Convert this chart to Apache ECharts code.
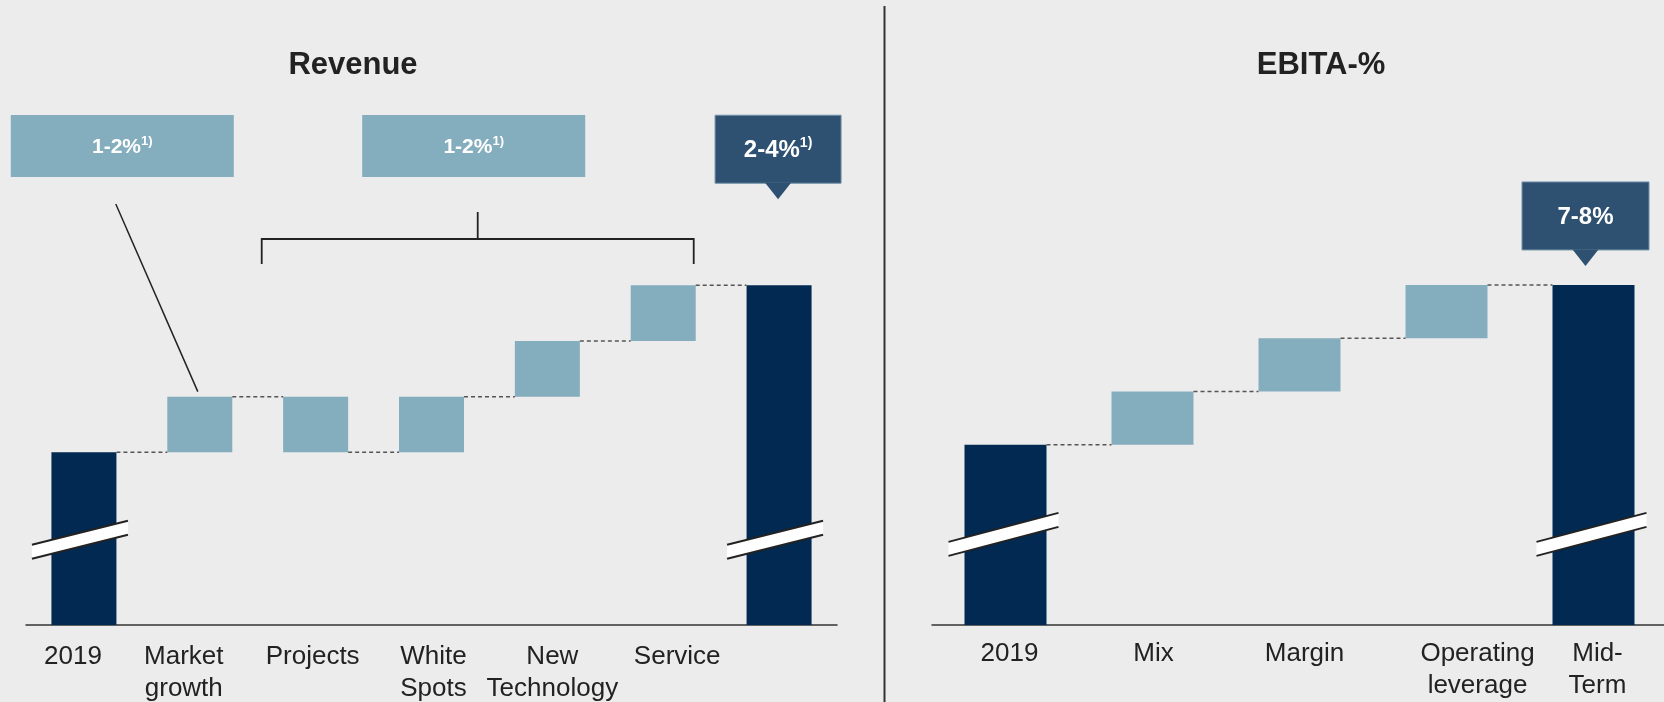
<!DOCTYPE html>
<html><head><meta charset="utf-8">
<script src="https://cdn.jsdelivr.net/npm/echarts@6/dist/echarts.min.js"></script>
<style>html,body{margin:0;padding:0;background:#ececec;}#c{width:1664px;height:702px;}</style>
</head><body><div id="c"></div>
<script>
// ---------- data ----------
const revCategories = ['2019', 'Market\ngrowth', 'Projects', 'White\nSpots', 'New\nTechnology', 'Service', ''];
const revStart = 3.1;
const revSteps = [1, -1, 1, 1, 1];
const revEnd = 6.1;
const revBreakAt = 1.55;
const revCalloutText = ['1-2%', '1-2%'];
const revTotalText = '2-4%';

const ebitaCategories = ['2019', 'Mix', 'Margin', 'Operating\nleverage', 'Mid-\nTerm'];
const ebitaStart = 3.38;
const ebitaSteps = [1, 1, 1];
const ebitaEnd = 6.38;
const ebitaBreakAt = 1.71;
const ebitaTotalText = '7-8%';
const footnoteMark = '1)';

// ---------- style ----------
const FONT = 'Liberation Sans, Arial, Helvetica, sans-serif';
const NAVY = '#012952';
const LIGHT = '#84adbd';
const CALLOUT = '#2e5071';
const TXT = '#222222';
const revLabelShift = [-11, -16, -3, 2, 5, 14, 0];
const ebitaLabelShift = [4, 1, 5, 31, 4];
const REV_BW = 65, EB_BW = 82;

function waterfall(start, steps, end) {
  const base = [0], height = [start], total = [true], levels = [start];
  let run = start;
  steps.forEach(s => {
    if (s >= 0) { base.push(run); height.push(s); run += s; }
    else { run += s; base.push(run); height.push(-s); }
    total.push(false); levels.push(run);
  });
  base.push(0); height.push(end); total.push(true);
  return { base, height, total, levels };
}
const rev = waterfall(revStart, revSteps, revEnd);
const eb = waterfall(ebitaStart, ebitaSteps, ebitaEnd);

function richFor(shifts) {
  const r = {};
  shifts.forEach((d, i) => {
    r['o' + i] = {
      fontSize: 26, lineHeight: 32, color: TXT, fontFamily: FONT,
      padding: d >= 0 ? [0, 0, 0, 2 * d] : [0, -2 * d, 0, 0]
    };
  });
  return r;
}
function fmt(value, index) {
  if (!value) return '';
  return value.split('\n').map(l => '{o' + index + '|' + l + '}').join('\n');
}

function xAxis(grid, cats, shifts, margin) {
  return {
    type: 'category', gridIndex: grid, data: cats,
    axisLine: { show: true, lineStyle: { color: '#333', width: 1.5 } },
    axisTick: { show: false }, splitLine: { show: false },
    axisLabel: { interval: 0, margin: margin, formatter: fmt, rich: richFor(shifts), fontSize: 26, lineHeight: 32, color: TXT, fontFamily: FONT }
  };
}
function yAxis(grid) {
  return { type: 'value', gridIndex: grid, min: 0, max: 10, show: false };
}

function barSeries(idx, w, d, stack) {
  return [
    { type: 'bar', xAxisIndex: idx, yAxisIndex: idx, stack: stack, barWidth: w, silent: true,
      itemStyle: { color: 'rgba(0,0,0,0)' }, data: d.base },
    { type: 'bar', xAxisIndex: idx, yAxisIndex: idx, stack: stack, barWidth: w,
      data: d.height.map((h, i) => ({ value: h, itemStyle: { color: d.total[i] ? NAVY : LIGHT } })) }
  ];
}
function connectorSeries(idx, w, d) {
  return {
    type: 'custom', xAxisIndex: idx, yAxisIndex: idx, z: 5, silent: true,
    data: d.levels.map((l, i) => [i, l]),
    renderItem: (params, api) => {
      const i = api.value(0), l = api.value(1);
      const a = api.coord([i, l]), b = api.coord([i + 1, l]);
      return { type: 'line', shape: { x1: a[0] + w / 2, y1: a[1], x2: b[0] - w / 2, y2: b[1] },
        style: { stroke: '#555', lineWidth: 1.5, lineDash: [4, 3] } };
    }
  };
}
function breakSeries(idx, at, cats, lo, hi, slope, thick) {
  return {
    type: 'custom', xAxisIndex: idx, yAxisIndex: idx, z: 10, silent: true,
    data: [[0, at], [cats.length - 1, at]],
    renderItem: (params, api) => {
      const c = api.coord([api.value(0), api.value(1)]);
      const x1 = c[0] - lo, x2 = c[0] + hi;
      const y1 = c[1] + lo * slope, y2 = c[1] - hi * slope;
      const t = thick / 2;
      return { type: 'group', children: [
        { type: 'polygon', shape: { points: [[x1, y1 - t], [x2, y2 - t], [x2, y2 + t], [x1, y1 + t]] }, style: { fill: '#ffffff' } },
        { type: 'line', shape: { x1: x1, y1: y1 - t, x2: x2, y2: y2 - t }, style: { stroke: '#222', lineWidth: 2 } },
        { type: 'line', shape: { x1: x1, y1: y1 + t, x2: x2, y2: y2 + t }, style: { stroke: '#222', lineWidth: 2 } }
      ] };
    }
  };
}

const chart = echarts.init(document.getElementById('c'), null, { renderer: 'canvas' });
chart.setOption({
  backgroundColor: '#ececec',
  animation: false,
  textStyle: { fontFamily: FONT },
  grid: [
    { left: 26, width: 811, top: 68, height: 557, containLabel: false, outerBoundsMode: 'none' },
    { left: 932, width: 735, top: 92, height: 533, containLabel: false, outerBoundsMode: 'none' }
  ],
  xAxis: [xAxis(0, revCategories, revLabelShift, 16), xAxis(1, ebitaCategories, ebitaLabelShift, 13)],
  yAxis: [yAxis(0), yAxis(1)],
  series: [
    ...barSeries(0, REV_BW, rev, 'rev'),
    ...barSeries(1, EB_BW, eb, 'eb'),
    connectorSeries(0, REV_BW, rev),
    connectorSeries(1, EB_BW, eb),
    breakSeries(0, revBreakAt, revCategories, 52, 44, 0.25, 14),
    breakSeries(1, ebitaBreakAt, ebitaCategories, 57, 53, 0.264, 14)
  ]
});

// ---------- annotations ----------
function labelText(x, y, main, sup, size, supSize) {
  return {
    type: 'text', z: 20, silent: true,
    style: {
      x: x, y: y, align: 'center', verticalAlign: 'middle',
      text: '{b|' + main + '}' + (sup ? '{s|' + sup + '}' : ''),
      rich: {
        b: { fontSize: size, fontWeight: 'bold', fill: '#ffffff', fontFamily: FONT, lineHeight: size + 4 },
        s: { fontSize: supSize, fontWeight: 'bold', fill: '#ffffff', fontFamily: FONT, lineHeight: supSize + 2, verticalAlign: 'top' }
      }
    }
  };
}
function callout(cx, tipY, w, h, main, sup) {
  const by = tipY - 16 - h;
  return [
    { type: 'rect', z: 18, silent: true, shape: { x: cx - w / 2, y: by, width: w, height: h },
      style: { fill: CALLOUT, stroke: '#7391a8', lineWidth: 1 } },
    { type: 'polygon', z: 19, silent: true, shape: { points: [[cx - 13, by + h - 0.5], [cx + 13, by + h - 0.5], [cx, tipY]] },
      style: { fill: CALLOUT } },
    labelText(cx, by + h / 2 + 1, main, sup, 24, 14)
  ];
}
const px0 = v => chart.convertToPixel({ gridIndex: 0 }, v);
const px1 = v => chart.convertToPixel({ gridIndex: 1 }, v);

const mgTop = px0([1, rev.levels[1]]);
const prPt = px0([2, rev.levels[1]]);
const svPt = px0([5, rev.levels[5]]);
const revTot = px0([revCategories.length - 1, revEnd]);
const ebTot = px1([ebitaCategories.length - 1, ebitaEnd]);

const brL = (mgTop[0] + prPt[0]) / 2 + 4;
const brR = svPt[0] + REV_BW / 2 - 2;
const brM = (brL + brR) / 2;
const box1cx = mgTop[0] - 77.5;
const box2cx = brM - 4;

const G = [
  { type: 'line', silent: true, shape: { x1: 884.5, y1: 6, x2: 884.5, y2: 702 }, style: { stroke: '#333', lineWidth: 2 } },
  { type: 'text', silent: true, style: { x: 353, y: 65, text: 'Revenue', align: 'center', verticalAlign: 'middle', fontSize: 31, fontWeight: 'bold', fontFamily: FONT, fill: TXT } },
  { type: 'text', silent: true, style: { x: 1321, y: 65, text: 'EBITA-%', align: 'center', verticalAlign: 'middle', fontSize: 31, fontWeight: 'bold', fontFamily: FONT, fill: TXT } },
  { type: 'rect', silent: true, shape: { x: box1cx - 111.5, y: 115, width: 223, height: 62 }, style: { fill: LIGHT } },
  labelText(box1cx, 147, revCalloutText[0], footnoteMark, 21, 13),
  { type: 'rect', silent: true, shape: { x: box2cx - 111.5, y: 115, width: 223, height: 62 }, style: { fill: LIGHT } },
  labelText(box2cx, 147, revCalloutText[1], footnoteMark, 21, 13),
  { type: 'line', silent: true, shape: { x1: box1cx - 6.5, y1: 204, x2: mgTop[0] - 2, y2: mgTop[1] - 5 }, style: { stroke: '#222', lineWidth: 1.5 } },
  { type: 'polyline', silent: true, shape: { points: [[brL, 264], [brL, 239], [brR, 239], [brR, 264]] }, style: { stroke: '#222', lineWidth: 1.8, fill: null } },
  { type: 'line', silent: true, shape: { x1: brM, y1: 212, x2: brM, y2: 239 }, style: { stroke: '#222', lineWidth: 1.8 } },
  ...callout(revTot[0] - 1, revTot[1] - 86, 126, 68, revTotalText, footnoteMark),
  ...callout(ebTot[0] - 8, ebTot[1] - 19, 127, 68, ebitaTotalText, '')
];
chart.setOption({ graphic: G });
</script>
</body></html>
